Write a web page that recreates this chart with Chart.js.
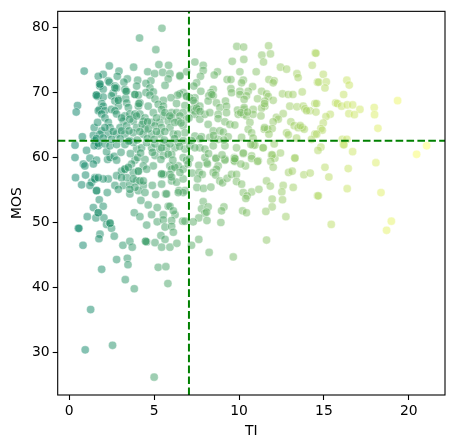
<!DOCTYPE html>
<html>
<head>
<meta charset="utf-8">
<script src="https://cdn.jsdelivr.net/npm/chart.js@4"></script>
<style>
  html, body { margin: 0; padding: 0; background: #fff; }
  canvas { display: block; }
</style>
</head>
<body>
<canvas id="grafico" width="454" height="448"></canvas>
<script>
// valores, por regiao
const tiUpperLeft = [
  5.46,4.14,5.1,.88,2.36,3.79,5.28,5.85,2.93,4.62,
  5.03,5.5,5.93,2.0,1.71,2.83,2.3,3.42,3.22,4.03,
  4.81,6.52,5.83,6.91,1.79,1.8,2.36,2.69,2.79,3.28,
  3.97,4.52,4.75,5.64,2,3.38,2.59,3.87,4.07,4.52,
  4.95,6.71,6.52,6.38,5.99,1.6,1.67,2,2.49,2.89,
  3.32,2.69,4.75,5.05,5.54,6.91,.49,.41,1.91,2,
  1.79,1.71,2.1,2.49,2.89,3.38,3.48,4.16,4.07,4.65,
  5.24,5.54,6.32,6.81,1.91,2.1,2.69,2.79,3.28,3.57,
  3.87,4.16,4.46,4.95,5.44,5.54,6.03,6.32,6.71,6.03,
  6.52,2.3,3.18,3.77,4.36,4.85,5.34,5.83,6.42,6.91,
  1.47,1.91,2.4,2.99,3.38,3.97,4.46,5.05,5.44,5.93,
  6.71,1.42,.77,1.81,2.3,2.79,3.28,3.77,4.36,4.85,
  5.34,6.13,6.81
];
const mosUpperLeft = [
  79.9,78.4,76.6,73.3,74.1,73.9,74.3,74.2,73.3,73.2,
  72.9,73.1,72.9,72.8,72.5,72.5,71.8,72.1,71.6,71.9,
  71.8,72.5,72.1,73.2,71.3,71,71.6,71,70.7,70.5,
  71,71.4,70.7,71.1,70.5,70.2,69.9,69.7,69.6,70,
  70.1,70,69.8,69.6,69.2,69.6,69.4,69.3,69.5,69,
  69.1,68.7,69.6,69,68.8,69.5,68,67,68.3,67.9,
  67.4,67.2,67.2,67.4,67.9,68.4,67.7,68.4,67.9,67.9,
  68.2,67.9,68.3,68,66.7,66.1,67.2,66.7,66.4,66.7,
  66.7,66.7,66.1,66.9,67.4,66.4,66.9,66.9,66.9,66.1,
  66.4,65.4,65.6,65.6,65.6,65.4,65.4,65.6,65.6,65.9,
  64.6,64.1,64.6,64.6,64.9,64.6,64.4,64.9,64.6,64.6,
  64.9,63.4,63.2,63.6,63.6,63.6,63.6,63.8,63.6,63.6,
  63.6,63.6,63.8
];

const tiLowerLeft = [
  .34,1.02,.34,1.22,1.61,.83,1.42,.92,2.26,2.4,
  2.65,2.79,3.05,2.2,1.71,1.51,1.71,3.97,3.87,4.03,
  4.85,5.34,5.73,6.23,6.81,3.77,5.05,5.54,6.03,6.71,
  6.91,4.46,5.93,6.42,4.95,4.36,3.67,3.28,3.08,4.07,
  4.56,3.77,6.03,6.71,2.79,2.3,2.0,1.51,1.32,.37,
  .96,.73,1.22,1.61,2.24,2.69,3.18,3.57,3.97,4.36,
  4.89,5.44,5.54,6.03,6.32,5.44,5.93,6.71,3.38,3.77,
  2.89,3.57,4.07,4.46,5.09,5.68,6.46,6.81,4.22,4.65,
  1.77,1.42,2.0,1.71,1.06,1.57,2.04,3.83,4.16,4.85,
  5.18,5.83,5.93,5.54,6.23,6.13,6.68,5.18,5.54,6.03,
  5.64,6.03,4.56,2.2,2.4,2.49,.53,.57,1.81,1.75,
  2.65,.81,3.16,3.57,3.71,4.5,4.56,5.05,5.4,5.64,
  5.44,5.93,6.13,6.34,2.79,3.42,3.46,5.24,5.69,1.91,
  3.3,3.83,5.81,1.26,.94,2.55,5.0,
  1.47,1.71,2.1,2.4,2.79,3.28,3.57,4.26,4.56,5.05,
  5.54,5.93,6.42,6.71
];
const mosLowerLeft = [
  61.9,61.1,60,59.9,59.6,59,59,58.7,59.7,60,
  60.2,59.6,60.8,60.9,62.1,62.6,61.8,61.3,59.6,60,
  61.5,61.3,61.5,61.5,61.3,62.3,60.3,60.3,60.5,60,
  59.6,59.7,58.7,58.7,58.7,58.7,59,58.2,57.9,57.9,
  58.2,57.7,58.2,58.2,57.2,56.7,56.7,56.9,56.2,56.9,
  57.3,55.8,55.7,54.9,54.6,55.7,55.7,55.9,56.4,55.7,
  55.7,57.4,57.4,56.4,56.2,55.9,57.4,56.7,56.9,56.7,
  55.1,54.4,54.9,54.6,54.3,54.4,54.9,54.9,53.4,52.7,
  53.5,52.3,52.5,51.5,50.9,50.7,50.7,51.5,50.9,51.2,
  52.3,52.5,52.5,51.2,51.2,51.8,50.2,50.1,50.4,50.3,
  49.3,49.4,49.6,49.7,49.9,49.1,49.1,49.1,48.2,47.5,
  47.9,46.5,46.5,47.1,46.2,47.1,47,46.9,48,47.4,
  46.2,46.2,48.5,46.8,44.3,44.5,43.5,43.1,43.2,42.8,
  41.2,39.8,40.6,36.6,30.4,31.1,26.2,
  61.8,62.2,62.1,61.8,62,62,62.6,61.5,62.3,62.1,
  62.3,62.1,62.3,62.6
];

const tiUpperMiddle = [
  9.87,10.27,11.74,11.34,11.85,14.49,9.6,10.28,11.44,14.31,
  12.44,12.8,7.4,7.89,7.89,8.73,8.54,10.05,11.01,13.41,
  13.48,7.73,7.5,7.34,9.3,9.52,10.25,10.15,11.76,12.07,
  12.01,14.62,10.8,9.52,9.56,8.48,8.34,8.22,8.48,7.75,
  10.05,10.05,10.54,10.44,11.33,11.62,11.72,12.01,12.56,12.9,
  13.17,13.72,7.4,7.1,8.18,8.67,9.2,10.3,11.09,11.52,
  11.52,11.33,12.99,13.41,13.78,13.88,14.17,13.98,14.47,7.4,
  7.69,7.16,7.4,7.6,7.4,7.69,7.05,7.99,8.28,8.87,
  9.26,8.77,9.26,9.91,10.3,10.83,9.95,10.25,10.44,10.83,
  11.29,12.2,12.6,12.31,12.01,13.05,13.25,13.48,13.72,13.84,
  12.8,12.9,8.18,8.77,9.17,9.46,9.75,10.64,10.54,10.74,
  11.48,11.68,11.95,11.76,8.48,8.87,9.07,7.4,7.79,8.28,
  8.77,9.36,10.15,10.83,13.39,14.47,14.27
];
const mosUpperMiddle = [
  77.1,77,77.2,75.75,75.95,76.1,74.8,75.1,74.7,74.2,
  73.9,73.6,74.7,74.2,73.4,73.2,72.7,73.2,73.2,72.9,
  72.3,72.5,71.5,71,72,72,71.9,71.5,72,71.8,
  71.5,71.6,70.9,70.6,69.97,70.5,70,69.5,69.5,70.2,
  70.2,69.7,70.2,69.5,70.2,69.8,69.4,68.8,69.8,69.7,
  69.7,70.1,69.2,69.2,68.7,68.4,68.7,68.95,69.05,68.7,
  67.9,67.6,67.9,67.8,67.9,67.5,67.2,67.2,68.3,68.4,
  67.9,67.4,67.2,67.4,66.65,65.9,66.1,66.65,66.9,67.7,
  67.9,66.65,66.9,67.3,67.4,67.4,66.65,66.65,66.4,66.65,
  66.4,66.2,66.75,65.9,65.5,65.5,64.9,64.6,64.6,64.35,
  63.8,63.5,65.1,66,65.5,65.1,65,65.4,64.35,63.8,
  64.35,64.35,64.45,63.6,64.1,64.1,63.9,63.3,63.2,63.1,
  62.8,63.2,63.1,63,63,63.6,62.8
];

const tiLowerMiddle = [
  7.69,7.1,7.4,7.99,8.48,9.17,9.85,10.83,11.42,12.07,
  11.91,12.11,13.29,8.64,8.09,9.17,9.72,9.75,10.25,10.74,
  11.13,7.1,7.99,8.64,9.76,9.72,9.17,10.25,10.93,11.42,
  12.44,11.95,11.87,12.01,13.29,10.74,11.09,10.38,10.11,8.77,
  8.67,7.63,8.14,7.0,7.24,7.65,7.83,7.56,8.48,8.62,
  8.87,9.03,9.3,9.56,9.85,9.85,10.15,7.52,7.91,8.34,
  10.25,10.74,11.17,11.62,11.84,10.48,10.4,12.6,12.52,13.19,
  12.92,13.13,13.82,14.19,14.62,11.95,12.56,11.95,11.58,12.76,
  7.89,7.79,8.18,7.99,8.09,9.11,8.97,10.21,10.44,7.63,
  7.3,8.11,8.93,6.81,7.63,7.2,8.24,9.66,11.62
];
const mosLowerMiddle = [
  61.5,61.8,61.5,61.3,61.8,61.8,61.5,61.9,61.5,62.1,
  60.4,59.9,59.95,59.95,59.2,59.75,60,59.4,60.6,60.25,
  59.5,59.85,60,59.85,59.85,59.5,59.6,60.7,61.9,61.5,
  60.7,60.4,59.4,58.5,59.9,59.85,59.4,58.7,59,58.7,
  58.2,58.8,59,59,57.6,57.7,57.4,56.7,57.7,57.3,
  56.4,56.1,56.8,57.4,57.4,56.3,55.9,55.4,55.25,55.45,
  54.6,54.7,55.1,56.4,55.6,54.1,53.7,55.7,54.7,55.4,
  57.7,57.9,57.35,57.6,54.1,53.6,53.5,52.4,51.7,50.9,
  53.2,52.1,52.4,51.4,51.6,52.4,51.8,51.8,51.5,50.7,
  50.1,50.3,50,50.2,47.4,46.5,45.4,44.7,47.3
];

const tiRight = [
  14.53,14.96,14.69,15.14,15.06,16.35,16.49,16.16,14.57,14.53,
  15.69,15.79,16.04,16.37,16.69,17.12,16.47,16.79,15.37,15.12,
  14.96,14.82,14.9,14.57,17.96,17.98,19.34,18.18,16.08,16.35,
  16.14,16.18,21.05,20.46,14.82,14.65,16.69,18.06,15.06,16.43,
  15.29,16.37,18.36,14.67,18.97,18.69,15.43
];
const mosRight = [
  76.05,72.8,71.6,71.65,70.7,71.9,71.15,69.7,68.3,67,
  68.4,68.3,67.9,68.1,68.1,67.4,66.75,66.6,66.65,66.3,
  65.3,64.45,64.2,63.6,67.7,66.6,68.75,64.5,62.8,62.8,
  62,61.95,61.8,60.5,61.6,61.1,60.9,59.2,58.5,58.3,
  57,55.2,54.6,54.1,50.2,48.8,49.7
];

// pontos sobrepostos nas partes mais densas
const tiDense = [
  3.08,3.57,3.97,4.3,4.61,5.14,5.63,5.93,6.22,6.58,
  3.08,3.52,4.16,4.65,5.14,5.63,6.38,1.67,2.1,2.59,
  1.6,2.89,3.34,4.1,1.81,2.69,6.52,6.91,3.87,
  3.28,3.48,4.07,5.44,3.08,4.16,4.36,3.87,3.57,1.61,
  1.51,1.71,4.5,2.4,1.71,6.03,6.22,6.52,6.71,6.42,
  5.73,5.44,5.83,1.6,2,2.5,3,3.5,4,4.6,
  5,5.6,6.2,6.5,4.9,3.6,4.2,5.4,6.1,
  7.5,7.7,10.3,10.1,11.5,8.4,10.7,9.75,7.3,7.7,
  7.2,8.5,9.1,8.2,9,11.5,13.6,10.5
];
const mosDense = [
  66.1,65.9,66.4,65.1,65.5,66.1,66.9,66.4,65.4,65.3,
  64.1,64.1,64,64.4,64,64,63.6,65.4,64.6,64,
  69.6,68.8,70.2,68.3,71.3,70.7,72.6,69.4,69.7,
  58.2,58.5,57.9,57.5,56.9,56.4,56.4,55.4,55.1,54.9,
  56.7,51.5,47.1,49.9,56.9,57,58.5,57.7,54.6,54.6,
  54.4,61.5,60.5,62.9,63,62.8,62.9,62.5,62.7,62.9,
  62.8,62.7,62.9,61.7,60.8,60.6,60.7,59.7,59.6,
  67.6,67.1,67.7,66.9,68.3,69.7,62,59.8,68.8,62.9,
  62.6,63.4,62.7,60.6,60.4,64.6,64.9,67
];

const tiValues = [...tiUpperLeft, ...tiLowerLeft, ...tiUpperMiddle, ...tiLowerMiddle, ...tiRight, ...tiDense];
const mosValues = [...mosUpperLeft, ...mosLowerLeft, ...mosUpperMiddle, ...mosLowerMiddle, ...mosRight, ...mosDense];

const tiTicks = [0, 5, 10, 15, 20];
const mosTicks = [30, 40, 50, 60, 70, 80];
const tiCorte = 7.05;
const mosCorte = 62.6;

const pontos = tiValues.map((x, i) => ({ x: x, y: mosValues[i] }));

// mapa de cor "summer" aplicado ao TI
function corPonto(ctx) {
  const t = Math.min(1, (ctx.raw ? ctx.raw.x : 0) / 21);
  return `rgba(${Math.round(255 * t)},${Math.round(127.5 + 127.5 * t)},102,0.5)`;
}

const moldura = {
  id: 'moldura',
  afterDatasetsDraw(chart) {
    const a = chart.chartArea;
    const c = chart.ctx;
    c.save();
    c.strokeStyle = '#000';
    c.lineWidth = 1.1;
    c.strokeRect(a.left, a.top, a.right - a.left, a.bottom - a.top);
    c.restore();
  }
};

const fonte = { family: '"DejaVu Sans"', size: 13.9 };
const linhaCorte = {
  type: 'line',
  showLine: true,
  borderColor: '#008000',
  borderWidth: 2,
  borderDash: [7.6, 3.3],
  pointRadius: 0,
  fill: false
};

new Chart(document.getElementById('grafico'), {
  type: 'scatter',
  data: {
    datasets: [
      { ...linhaCorte, data: [{ x: tiCorte, y: 23.45 }, { x: tiCorte, y: 82.5 }] },
      { ...linhaCorte, data: [{ x: -0.68, y: mosCorte }, { x: 22.13, y: mosCorte }] },
      {
        data: pontos,
        backgroundColor: corPonto,
        borderColor: 'rgba(255,255,255,0.5)',
        borderWidth: 0.8,
        pointRadius: 4.1
      }
    ]
  },
  options: {
    responsive: false,
    animation: false,
    layout: { padding: { left: 0, right: 9, top: 10, bottom: 0 } },
    plugins: { legend: { display: false }, tooltip: { enabled: false } },
    scales: {
      x: {
        type: 'linear',
        min: -0.68,
        max: 22.13,
        afterBuildTicks(scale) { scale.ticks = tiTicks.map(v => ({ value: v })); },
        afterFit(scale) { scale.height = 53; },
        grid: { drawOnChartArea: false, tickLength: 5, tickColor: '#000', tickWidth: 1.1 },
        border: { display: false },
        ticks: { color: '#000', font: fonte, padding: 3, maxRotation: 0 },
        title: { display: true, text: 'TI', color: '#000', font: fonte, padding: { top: 2, bottom: 8 } }
      },
      y: {
        type: 'linear',
        min: 23.45,
        max: 82.5,
        afterBuildTicks(scale) { scale.ticks = mosTicks.map(v => ({ value: v })); },
        afterFit(scale) { scale.width = 57.7; },
        grid: { drawOnChartArea: false, tickLength: 5, tickColor: '#000', tickWidth: 1.1 },
        border: { display: false },
        ticks: { color: '#000', font: fonte, padding: 3 },
        title: { display: true, text: 'MOS', color: '#000', font: fonte, padding: { top: 9, bottom: 2 } }
      }
    }
  },
  plugins: [moldura]
});
</script>
</body>
</html>
